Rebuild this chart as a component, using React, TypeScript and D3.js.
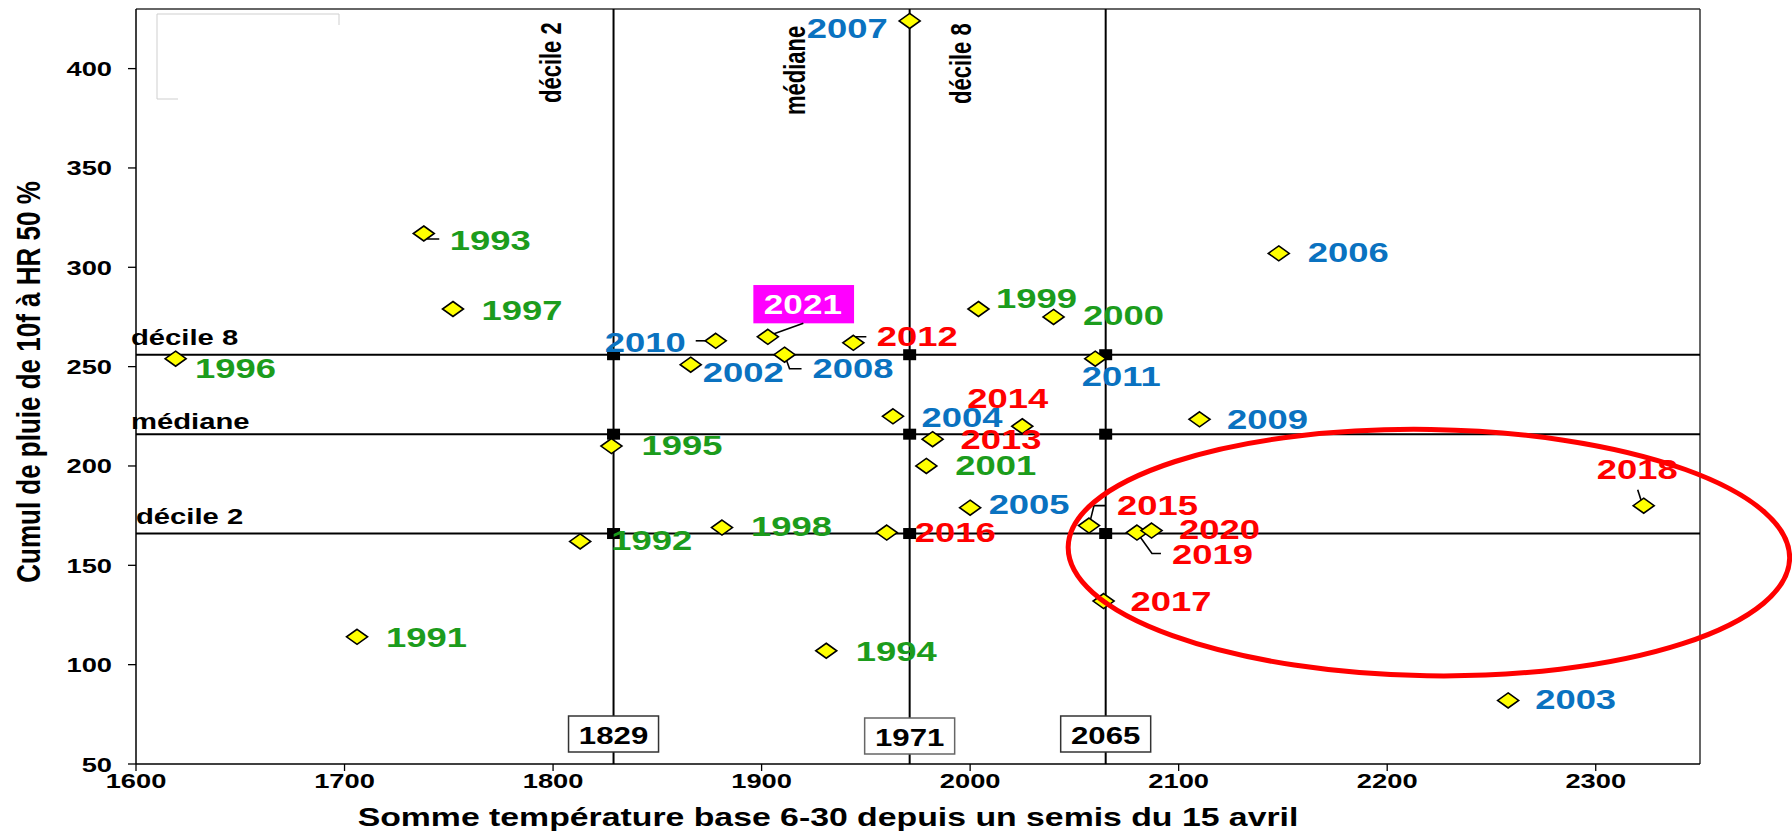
import React from "react";
import * as d3 from "d3";

// ---------- data ----------
const years = [1991, 1992, 1993, 1994, 1995, 1996, 1997, 1998, 1999, 2000, 2001,
  2002, 2003, 2004, 2005, 2006, 2007, 2008, 2009, 2010, 2011,
  2012, 2013, 2014, 2015, 2016, 2017, 2018, 2019, 2020, 2021];
const sommeTemp = [1706, 1813, 1738, 1931, 1828, 1619, 1752, 1881, 2004, 2040, 1979,
  1866, 2258, 1963, 2000, 2148, 1971, 1911, 2110, 1878, 2060,
  1944, 1982, 2025, 2057, 1960, 2064, 2323, 2080, 2087, 1903];
const cumulPluie = [114, 162, 317, 107, 210, 254, 279, 169, 279, 275, 200,
  251, 82, 225, 179, 307, 424, 256, 223.5, 263, 254,
  262, 213.5, 220, 170, 166.5, 132, 180, 166.5, 167.5, 265];
// period group of each year: 0 = 1991-2001, 1 = 2002-2011, 2 = 2012-2020, 3 = 2021
const periods = [0, 0, 0, 0, 0, 0, 0, 0, 0, 0, 0,
  1, 1, 1, 1, 1, 1, 1, 1, 1, 1,
  2, 2, 2, 2, 2, 2, 2, 2, 2, 3];

const tempQuantiles = [1829, 1971, 2065];
const tempQuantileNames = ["décile 2", "médiane", "décile 8"];
const rainQuantiles = [166, 216, 256];
const rainQuantileNames = ["décile 2", "médiane", "décile 8"];

const xTicks = [1600, 1700, 1800, 1900, 2000, 2100, 2200, 2300];
const yTicks = [50, 100, 150, 200, 250, 300, 350, 400];

const xTitle = "Somme température base 6-30 depuis un semis du 15 avril";
const yTitle = "Cumul de pluie de 10f à HR 50 %";

// highlighted zone (data units): centre and radii
const zoneCentre = [2220, 156.4];
const zoneRadii = [173, 62];

// ---------- layout / style ----------
const W = 1792, H = 834;
const L = 136, R = 1700, T = 9, B = 764;
const SX = 1.3; // horizontal stretch of the original picture
const FONT = "'Liberation Sans', Arial, Helvetica, sans-serif";
const periodColors = ["#1c9c1c", "#0a72c0", "#ff0000", "#ffffff"];

type Lab = { dx: number; dy: number; anchor?: string; leader?: number[][] };
const labelLayout: Record<number, Lab> = {
  1991: { dx: 29, dy: 10 },
  1992: { dx: 31, dy: 9 },
  1993: { dx: 26, dy: 16.5, leader: [[1, 0], [4, 5.5], [15.5, 5.5]] },
  1994: { dx: 29.5, dy: 10 },
  1995: { dx: 30, dy: 9 },
  1996: { dx: 19.5, dy: 19 },
  1997: { dx: 28.5, dy: 11 },
  1998: { dx: 29, dy: 8.5 },
  1999: { dx: 17.5, dy: -1.5 },
  2000: { dx: 29.5, dy: 8 },
  2001: { dx: 29, dy: 9 },
  2002: { dx: 12, dy: 17 },
  2003: { dx: 27, dy: 9 },
  2004: { dx: 28.5, dy: 10.5 },
  2005: { dx: 18.5, dy: 6.5 },
  2006: { dx: 29, dy: 8.5 },
  2007: { dx: -22, dy: 17.5, anchor: "end" },
  2008: { dx: 28, dy: 23.5, leader: [[0, 0], [5, 14], [17, 14]] },
  2009: { dx: 27.5, dy: 9.5 },
  2010: { dx: -30, dy: 11, anchor: "end", leader: [[-20, 0], [0, 0]] },
  2011: { dx: -13.5, dy: 27 },
  2012: { dx: 23.5, dy: 3, leader: [[0, 0], [3, -6], [13, -6]] },
  2013: { dx: 28, dy: 10 },
  2014: { dx: -55, dy: -18 },
  2015: { dx: 28, dy: -11, leader: [[0, 0], [5, -20], [17, -20]] },
  2016: { dx: 28, dy: 9 },
  2017: { dx: 27, dy: 9.5 },
  2018: { dx: -47, dy: -26.5, leader: [[-6, -16], [-1.5, -2]] },
  2019: { dx: 35, dy: 31, leader: [[0, 0], [15, 21], [24, 21]] },
  2020: { dx: 27.5, dy: 8.5 },
  2021: { dx: -4, dy: -22.5, leader: [[5.5, -2.8], [35.5, -13.5]] },
};

function STxt(props: {
  x: number; y: number; size: number; fill?: string; anchor?: string;
  rotate?: boolean; children: React.ReactNode;
}) {
  const { x, y, size, fill = "#000", anchor = "start", rotate = false, children } = props;
  const tr = `translate(${x},${y}) scale(${SX},1)` + (rotate ? " rotate(-90)" : "");
  return (
    <text transform={tr} fontSize={size} fill={fill} textAnchor={anchor as any}
      fontFamily={FONT} fontWeight="bold">{children}</text>
  );
}

export default function App() {
  const x = d3.scaleLinear().domain([1600, 2350]).range([L, R]);
  const y = d3.scaleLinear().domain([50, 430]).range([B, T]);
  const line = d3.line();

  const pts = years.map((yr, i) => ({
    yr, px: x(sommeTemp[i]), py: y(cumulPluie[i]), period: periods[i],
  }));

  const ecx = x(zoneCentre[0]);
  const ecy = y(zoneCentre[1]);
  const erx = x(zoneCentre[0] + zoneRadii[0]) - ecx;
  const ery = ecy - y(zoneCentre[1] + zoneRadii[1]);

  const diamond = "M0,-7.5L10.5,0L0,7.5L-10.5,0Z";

  // offsets of the rotated quantile labels relative to their temperature lines
  const vLabelPos = [
    { dx: -52.5, y: 103 },
    { dx: -104.5, y: 115 },
    { dx: -134.5, y: 104 },
  ];
  const hLabelPos = [
    { x: 136, dy: -9.3 },
    { x: 131, dy: -4.7 },
    { x: 131, dy: -9.3 },
  ];

  return (
    <svg width={W} height={H} style={{ position: "absolute", left: 0, top: 0, display: "block", background: "#fff" }}>
      <rect x={0} y={0} width={W} height={H} fill="#fff" />
      {/* faint remnant of legend frame */}
      <path d="M157,99V14H339V25 M157,99H178" fill="none" stroke="#cfcfcf" strokeWidth={1} />

      {/* frame */}
      <line x1={L} x2={R} y1={T} y2={T} stroke="#333" strokeWidth={1.5} />
      <line x1={R} x2={R} y1={T} y2={B} stroke="#333" strokeWidth={1.5} />

      {/* reference lines */}
      {rainQuantiles.map((q, i) => (
        <line key={"h" + i} x1={L} x2={R} y1={y(q)} y2={y(q)} stroke="#000" strokeWidth={2} />
      ))}
      {tempQuantiles.map((q, i) => (
        <line key={"v" + i} x1={x(q)} x2={x(q)} y1={T} y2={B} stroke="#000" strokeWidth={2} />
      ))}

      {/* axes */}
      <line x1={L} x2={L} y1={T} y2={B} stroke="#000" strokeWidth={1.5} />
      <line x1={L} x2={R} y1={B} y2={B} stroke="#000" strokeWidth={1.5} />
      {yTicks.map((t) => (
        <g key={"yt" + t}>
          <line x1={L - 8} x2={L} y1={y(t)} y2={y(t)} stroke="#000" strokeWidth={1.3} />
          <STxt x={112} y={y(t) + 7.5} size={21} anchor="end">{t}</STxt>
        </g>
      ))}
      {xTicks.map((t) => (
        <g key={"xt" + t}>
          <line x1={x(t)} x2={x(t)} y1={B} y2={B + 7} stroke="#000" strokeWidth={1.3} />
          <STxt x={x(t)} y={788} size={21} anchor="middle">{t}</STxt>
        </g>
      ))}

      {/* axis titles */}
      <STxt x={828} y={826} size={26} anchor="middle">{xTitle}</STxt>
      <STxt x={40} y={382} size={26} anchor="middle" rotate>{yTitle}</STxt>

      {/* quantile labels */}
      {tempQuantiles.map((q, i) => (
        <STxt key={"vl" + i} x={x(q) + vLabelPos[i].dx} y={vLabelPos[i].y} size={22} rotate>
          {tempQuantileNames[i]}
        </STxt>
      ))}
      {rainQuantiles.map((q, i) => (
        <STxt key={"hl" + i} x={hLabelPos[i].x} y={y(q) + hLabelPos[i].dy} size={22.5}>
          {rainQuantileNames[i]}
        </STxt>
      ))}

      {/* intersection squares */}
      {tempQuantiles.map((tq) =>
        rainQuantiles.map((rq) => (
          <rect key={tq + "-" + rq} x={x(tq) - 6.5} y={y(rq) - 5.5} width={13} height={11} fill="#000" />
        ))
      )}

      {/* value boxes on temperature lines */}
      {tempQuantiles.map((q, i) => (
        <g key={"box" + i}>
          <rect x={x(q) - 45} y={B - 48 + (i === 1 ? 2 : 0)} width={90} height={36}
            fill="#fff" stroke={i === 1 ? "#666" : "#333"} strokeWidth={1.5} />
          <STxt x={x(q)} y={B - 20.5 + (i === 1 ? 2 : 0)} size={24} anchor="middle">{q}</STxt>
        </g>
      ))}

      {/* 2021 highlight box */}
      {pts.filter((p) => p.period === 3).map((p) => (
        <rect key={"hb" + p.yr} x={p.px - 14.5} y={p.py - 51.8} width={100.7} height={38.3} fill="#ff00ff" />
      ))}

      {/* leaders */}
      {pts.map((p) => {
        const lay = labelLayout[p.yr];
        if (!lay || !lay.leader) return null;
        const d = line(lay.leader.map(([a, b]) => [p.px + a, p.py + b] as [number, number]));
        return <path key={"ld" + p.yr} d={d || ""} fill="none" stroke="#000" strokeWidth={1.6} />;
      })}

      {/* points */}
      {pts.map((p) => (
        <path key={"pt" + p.yr} d={diamond} transform={`translate(${p.px},${p.py})`}
          fill="#ffff00" stroke="#000" strokeWidth={1.6} strokeLinejoin="miter" />
      ))}

      {/* year labels */}
      {pts.map((p) => {
        const lay = labelLayout[p.yr];
        return (
          <STxt key={"lb" + p.yr} x={p.px + lay.dx} y={p.py + lay.dy} size={p.period === 3 ? 27 : 28}
            fill={periodColors[p.period]} anchor={lay.anchor || "start"}>
            {p.yr}
          </STxt>
        );
      })}

      {/* highlighted zone */}
      <ellipse cx={ecx} cy={ecy} rx={erx} ry={ery} fill="none" stroke="#ff0000" strokeWidth={5}
        transform={`rotate(0.9,${ecx},${ecy})`} />
    </svg>
  );
}
